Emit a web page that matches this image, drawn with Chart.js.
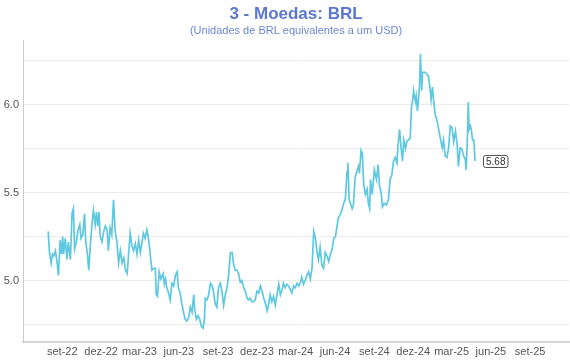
<!DOCTYPE html>
<html>
<head>
<meta charset="utf-8">
<script src="https://cdn.jsdelivr.net/npm/chart.js@4/dist/chart.umd.min.js"></script>
<style>
  html, body { margin: 0; padding: 0; background: #ffffff; }
  #wrap { width: 570px; height: 360px; }
</style>
</head>
<body>
<div id="wrap"><canvas id="c" width="570" height="360"></canvas></div>
<script>
// ---- DATA ----
const titleText = '3 - Moedas: BRL';
const subtitleText = '(Unidades de BRL equivalentes a um USD)';
const baseDate = '2022-09-01';
// days after baseDate for each observation
const dayOffsets = [-33,-30,-26,-23,-20,-16,-12,-9,-5,-2,1,3,7,11,14,19,23,26,29,33,37,41,44,48,52,55,59,62,66,70,73,77,80,83,86,89,93,97,101,105,108,112,116,120,124,128,132,136,140,144,148,152,155,159,163,167,171,175,179,183,187,190,194,198,202,206,210,214,218,220,223,227,231,236,239,242,245,249,253,257,261,265,269,272,276,280,284,288,292,296,300,304,308,310,314,318,322,326,330,333,335,339,343,347,351,354,358,362,366,370,374,378,382,386,390,394,398,401,405,409,413,417,421,425,429,433,436,440,444,448,452,456,460,464,468,472,476,480,483,487,491,495,499,503,507,511,515,518,522,526,530,534,538,542,546,550,554,558,561,565,569,573,577,581,585,589,593,597,600,604,608,612,616,620,624,628,632,636,640,643,647,651,655,659,663,667,669,672,675,679,682,686,690,694,696,700,703,706,710,714,717,720,722,726,731,736,740,743,747,750,754,759,764,768,772,776,780,784,786,790,793,797,800,804,807,811,815,818,821,823,827,829,832,835,837,839,842,844,850,854,858,862,864,867,870,874,878,881,887,890,893,897,901,905,909,913,917,921,925,928,932,936,940,944,946,949,951,953,956,958,961,964,967];
const brlValues = [5.28,5.16,5.10,5.15,5.14,5.17,5.10,5.03,5.23,5.15,5.25,5.15,5.24,5.12,5.22,5.12,5.385,5.41,5.18,5.22,5.29,5.32,5.24,5.26,5.38,5.22,5.15,5.06,5.21,5.33,5.40,5.32,5.39,5.31,5.39,5.25,5.22,5.28,5.31,5.29,5.17,5.30,5.26,5.46,5.28,5.22,5.10,5.17,5.10,5.13,5.06,5.04,5.14,5.27,5.20,5.17,5.21,5.15,5.23,5.16,5.22,5.27,5.24,5.29,5.24,5.15,5.06,5.07,5.07,4.92,4.91,5.05,5.01,5.04,4.98,5.01,4.96,4.93,4.89,4.985,4.97,5.03,5.05,4.96,4.93,4.87,4.82,4.78,4.77,4.79,4.85,4.82,4.92,4.84,4.78,4.80,4.78,4.74,4.73,4.78,4.90,4.89,4.92,4.985,4.97,4.94,4.87,4.85,4.96,4.985,4.94,4.86,4.92,4.96,5.04,5.16,5.16,5.10,5.06,5.06,5.04,4.99,5.00,4.96,4.94,4.90,4.89,4.90,4.88,4.88,4.89,4.94,4.93,4.97,4.94,4.90,4.87,4.83,4.86,4.92,4.88,4.91,4.86,4.92,4.98,4.92,4.95,4.985,4.96,4.98,4.97,4.95,4.93,4.97,4.96,4.985,4.97,4.99,5.02,4.98,5.00,5.03,5.05,5.01,5.07,5.28,5.24,5.16,5.12,5.19,5.09,5.07,5.16,5.14,5.11,5.15,5.175,5.24,5.25,5.30,5.36,5.375,5.40,5.44,5.46,5.62,5.67,5.46,5.44,5.41,5.43,5.585,5.62,5.65,5.61,5.74,5.72,5.55,5.49,5.52,5.44,5.41,5.575,5.49,5.63,5.575,5.66,5.54,5.50,5.42,5.44,5.43,5.46,5.575,5.60,5.68,5.70,5.67,5.755,5.86,5.775,5.68,5.80,5.75,5.79,5.80,5.81,5.985,6.03,6.08,6.02,6.05,5.965,6.05,6.11,6.29,6.08,6.185,6.185,6.175,6.16,6.08,6.03,6.10,6.02,5.94,5.91,5.87,5.79,5.755,5.80,5.71,5.70,5.755,5.88,5.87,5.79,5.85,5.775,5.65,5.755,5.75,5.71,5.69,5.63,5.81,6.015,5.86,5.88,5.86,5.80,5.80,5.68];
const tickDates = ['2022-09-01','2022-12-01','2023-03-01','2023-06-01','2023-09-01','2023-12-01','2024-03-01','2024-06-01','2024-09-01','2024-12-01','2025-03-01','2025-06-01','2025-09-01'];
const tickLabels = ['set-22','dez-22','mar-23','jun-23','set-23','dez-23','mar-24','jun-24','set-24','dez-24','mar-25','jun-25','set-25'];
const xRange = ['2022-06-01','2025-12-01'];
const yTicks = [4.75,5.0,5.25,5.5,5.75,6.0,6.25];
const yLabelled = [5.0,5.5,6.0];
const yRange = [4.651,6.365];

// ---- helpers ----
function dayNum(s) {
  const p = s.split('-').map(Number);
  return Date.UTC(p[0], p[1]-1, p[2]) / 86400000;
}
const base = dayNum(baseDate);
const points = dayOffsets.map((d, i) => ({ x: base + d, y: brlValues[i] }));
const tickDays = tickDates.map(dayNum);

const lastLabel = {
  id: 'lastLabel',
  afterDatasetsDraw(chart) {
    const meta = chart.getDatasetMeta(0);
    const pt = meta.data[meta.data.length - 1];
    const val = chart.data.datasets[0].data[meta.data.length - 1].y;
    const ctx = chart.ctx;
    const txt = val.toFixed(2);
    ctx.save();
    ctx.font = '10px "Liberation Sans", Arial, sans-serif';
    const w = ctx.measureText(txt).width + 5;
    const h = 12;
    const bx = Math.round(pt.x + 8) + 0.5;
    const by = Math.round(pt.y - h / 2) + 0.5;
    ctx.beginPath();
    if (ctx.roundRect) ctx.roundRect(bx, by, w, h, 2); else ctx.rect(bx, by, w, h);
    ctx.fillStyle = '#ffffff';
    ctx.fill();
    ctx.strokeStyle = '#555555';
    ctx.lineWidth = 1;
    ctx.stroke();
    ctx.fillStyle = '#333333';
    ctx.textAlign = 'center';
    ctx.textBaseline = 'middle';
    ctx.fillText(txt, bx + w / 2, by + h / 2 + 0.5);
    ctx.restore();
  }
};

const fontFam = '"Liberation Sans", Arial, Helvetica, sans-serif';

new Chart(document.getElementById('c'), {
  type: 'line',
  data: {
    datasets: [{
      data: points,
      borderColor: '#5ec8e0',
      borderWidth: 1.7,
      pointRadius: 0,
      tension: 0,
      fill: false
    }]
  },
  options: {
    responsive: false,
    animation: false,
    layout: { padding: { left: 0, right: 1, top: 0, bottom: 0 } },
    plugins: {
      legend: { display: false },
      tooltip: { enabled: false },
      title: {
        display: true,
        text: titleText,
        fullSize: false,
        color: '#5b77d1',
        font: { family: fontFam, size: 17, weight: 'bold' },
        padding: { top: 4, bottom: 0 }
      },
      subtitle: {
        display: true,
        text: subtitleText,
        fullSize: false,
        color: '#6c86d8',
        font: { family: fontFam, size: 11 },
        padding: { top: 0, bottom: 3 }
      }
    },
    scales: {
      x: {
        type: 'linear',
        min: dayNum(xRange[0]),
        max: dayNum(xRange[1]),
        afterBuildTicks(scale) {
          scale.ticks = tickDays.map(v => ({ value: v }));
        },
        afterFit(scale) { scale.height = 18; },
        grid: { display: false, drawTicks: false },
        border: { display: true, color: '#d6d6d6', width: 2 },
        ticks: {
          autoSkip: false,
          maxRotation: 0,
          padding: 3,
          color: '#555555',
          font: { family: fontFam, size: 11 },
          callback(value) {
            const i = tickDays.indexOf(value);
            return i >= 0 ? tickLabels[i] : '';
          }
        }
      },
      y: {
        min: yRange[0],
        max: yRange[1],
        afterBuildTicks(scale) {
          scale.ticks = yTicks.map(v => ({ value: v }));
        },
        afterFit(scale) { scale.width = 23; },
        grid: { color: '#ebebeb', lineWidth: 1, drawTicks: false },
        border: { display: true, color: '#cccccc', width: 1 },
        ticks: {
          padding: 4,
          color: '#555555',
          font: { family: fontFam, size: 11 },
          callback(value) {
            return yLabelled.some(v => Math.abs(v - value) < 1e-9) ? value.toFixed(1) : '';
          }
        }
      }
    }
  },
  plugins: [lastLabel]
});
</script>
</body>
</html>
